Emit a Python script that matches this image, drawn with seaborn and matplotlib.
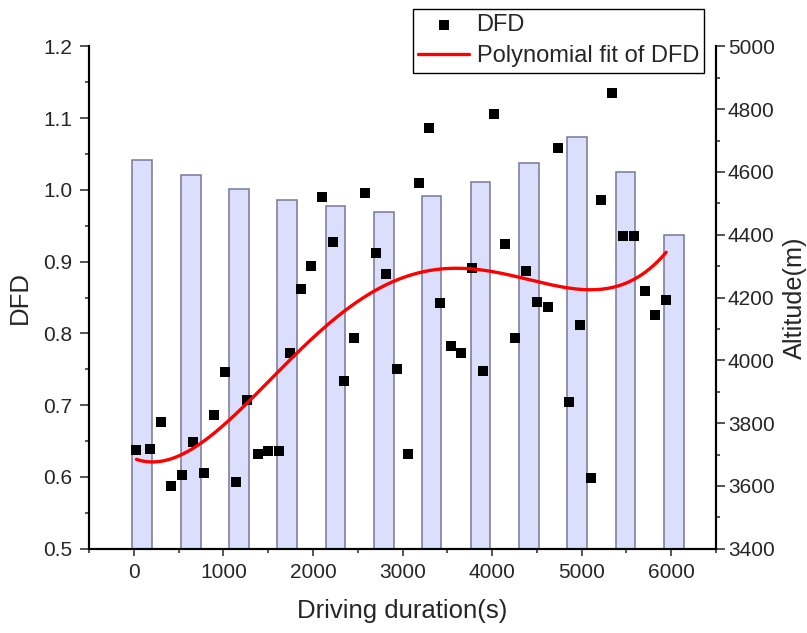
import numpy as np
import pandas as pd
import matplotlib
matplotlib.use("Agg")
import matplotlib.pyplot as plt
from matplotlib.ticker import MultipleLocator
import seaborn as sns

# ---- data ----
duration = [30, 178, 301, 420, 543, 662, 781, 900, 1023, 1142, 1260, 1383, 1502, 1622,
            1740, 1862, 1982, 2101, 2219, 2342, 2461, 2584, 2703, 2821, 2941, 3060,
            3183, 3301, 3424, 3540, 3658, 3781, 3900, 4023, 4142, 4260, 4383, 4502,
            4621, 4740, 4862, 4982, 5101, 5219, 5342, 5461, 5584, 5703, 5821, 5944]
dfd = [0.637, 0.639, 0.677, 0.588, 0.602, 0.649, 0.606, 0.686, 0.746, 0.593, 0.707,
       0.632, 0.636, 0.636, 0.772, 0.862, 0.894, 0.990, 0.928, 0.734, 0.793, 0.996,
       0.912, 0.883, 0.750, 0.632, 1.010, 1.086, 0.842, 0.783, 0.772, 0.891, 0.747,
       1.105, 0.925, 0.794, 0.887, 0.844, 0.837, 1.058, 0.704, 0.812, 0.598, 0.986,
       1.135, 0.936, 0.936, 0.859, 0.825, 0.846]
bar_pos = [94, 636, 1175, 1713, 2252, 2793, 3325, 3870, 4413, 4950, 5490, 6028]
altitude = [4637, 4591, 4546, 4510, 4492, 4472, 4524, 4568, 4629, 4710, 4599, 4399]
fit_degree = 4

sns.set_theme(style="ticks")
plt.rcParams["font.family"] = ["Liberation Sans", "DejaVu Sans"]
plt.rcParams["axes.linewidth"] = 1.5

fig = plt.figure(figsize=(8.07, 6.33), dpi=100)
ax1 = fig.add_axes([89 / 807, 1 - 548.7 / 633, (716 - 89) / 807, (548.7 - 46.3) / 633])
ax2 = ax1.twinx()

# bars (altitude) on the right axis
sns.barplot(x=bar_pos, y=altitude, native_scale=True, width=0.414, errorbar=None,
            color="#DCDFFB", edgecolor="#77779A", linewidth=1.1, saturation=1, ax=ax2)
for p in ax2.patches:
    p.set_facecolor("#DCDFFB")

# scatter + polynomial fit on left axis
df = pd.DataFrame({"duration": duration, "dfd": dfd})
coef = np.polyfit(df["duration"], df["dfd"], fit_degree)
xs = np.linspace(min(duration), max(duration), 300)
fit_df = pd.DataFrame({"x": xs, "y": np.polyval(coef, xs)})

sns.scatterplot(data=df, x="duration", y="dfd", marker="s", color="black", s=48,
                linewidth=0, ax=ax1, label="DFD", zorder=3)
sns.lineplot(data=fit_df, x="x", y="y", color="red", linewidth=2.4, ax=ax1,
             label="Polynomial fit of DFD", zorder=4)

ax1.set_zorder(ax2.get_zorder() + 1)
ax1.patch.set_visible(False)

ax1.set_xlim(-500, 6500)
ax1.set_ylim(0.5, 1.2)
ax2.set_ylim(3400, 5000)

ax1.xaxis.set_major_locator(MultipleLocator(1000))
ax1.xaxis.set_minor_locator(MultipleLocator(500))
ax1.yaxis.set_major_locator(MultipleLocator(0.1))
ax1.yaxis.set_minor_locator(MultipleLocator(0.05))
ax2.yaxis.set_major_locator(MultipleLocator(200))
ax2.yaxis.set_minor_locator(MultipleLocator(100))
ax1.set_xticks(range(0, 6001, 1000))
ax1.set_xticklabels([str(v) for v in range(0, 6001, 1000)])
ax1.set_yticklabels([f"{v:.1f}" for v in ax1.get_yticks()])

for ax in (ax1, ax2):
    ax.spines["top"].set_visible(False)
    for s in ax.spines.values():
        s.set_linewidth(1.5)
        s.set_color("black")

ax1.tick_params(axis="x", which="major", length=5, width=1.1, labelsize=15, pad=5, direction="out")
ax1.tick_params(axis="x", which="minor", length=3, width=1.1, direction="out")
ax1.tick_params(axis="y", which="major", length=6.7, width=1.1, labelsize=15, pad=5.5)
ax1.tick_params(axis="y", which="minor", length=3, width=1.1)
ax2.tick_params(axis="y", which="major", length=6.7, width=1.1, labelsize=15, pad=1.8)
ax2.tick_params(axis="y", which="minor", length=3, width=1.1)
ax1.grid(False)
ax2.grid(False)

ax1.set_xlabel("Driving duration(s)", fontsize=18.5)
ax1.set_ylabel("DFD", fontsize=18.5)
ax2.set_ylabel("Altitude(m)", fontsize=18.2, rotation=90)
ax1.xaxis.set_label_coords(0.5, -0.100)
ax1.yaxis.set_label_coords(-0.0914, 0.5)
ax2.yaxis.set_label_coords(1.107, 0.5)
ax2.yaxis.label.set_va("top")

handles, labels = ax1.get_legend_handles_labels()
if ax1.get_legend() is not None:
    ax1.get_legend().remove()
if ax2.get_legend() is not None:
    ax2.get_legend().remove()
leg = fig.legend(handles, labels, loc="upper left", bbox_to_anchor=(413 / 807, 1 - 9.3 / 633),
                 frameon=True, fancybox=False, edgecolor="black", framealpha=1,
                 fontsize=17, borderpad=0.22, handlelength=2.15, handletextpad=0.32,
                 labelspacing=0.38, borderaxespad=0, markerscale=1.1)
leg.get_frame().set_linewidth(1.0)

fig.savefig("out.png", dpi=100)
